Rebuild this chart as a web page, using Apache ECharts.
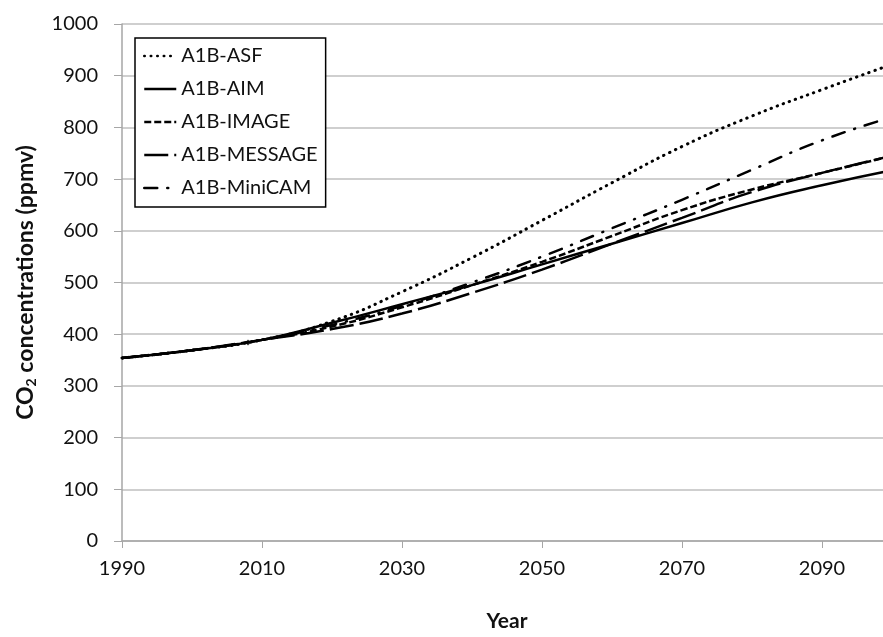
<!DOCTYPE html>
<html>
<head>
<meta charset="utf-8">
<script src="https://cdn.jsdelivr.net/npm/echarts@6/dist/echarts.min.js"></script>
<style>
  html, body { margin: 0; padding: 0; background: #fff; overflow: hidden; }
  #chart { width: 900px; height: 637px; }
</style>
</head>
<body>
<div id="chart"></div>
<script>
// years on the x axis
var years = [1990, 2000, 2010, 2020, 2030, 2040, 2050, 2060, 2070, 2080, 2090, 2100]

// CO2 concentrations (ppmv) per scenario
var asf = [354, 369, 389, 425, 482, 548, 620, 693, 763, 822, 873, 922]
var aim = [354, 369, 389, 422, 458, 495, 535, 575, 615, 655, 688, 717]
var image = [354, 369, 389, 415, 452, 495, 540, 590, 640, 680, 712, 745]
var message = [354, 369, 389, 410, 440, 480, 525, 575, 625, 675, 712, 745]
var minicam = [354, 369, 389, 418, 455, 500, 550, 605, 660, 718, 775, 820]

// observed point
var observed = [[2008, 384]]

var seriesNames = ['A1B-ASF', 'A1B-AIM', 'A1B-IMAGE', 'A1B-MESSAGE', 'A1B-MiniCAM']
var seriesData = [asf, aim, image, message, minicam]
var dashes = [[0.5, 6], 'solid', [7, 3], [24, 6], [13, 10, 1, 10]]
var widths = [3, 2.5, 2.5, 2.5, 2.5]

var font = 'Lato, "Open Sans", sans-serif'

var chart = echarts.init(document.getElementById('chart'))

var series = seriesNames.map(function (name, i) {
  return {
    name: name,
    type: 'line',
    smooth: true,
    symbol: 'none',
    data: seriesData[i].map(function (v, j) { return [years[j], v] }),
    lineStyle: { color: '#000', width: widths[i], type: dashes[i], cap: i === 0 || i === 4 ? 'round' : 'butt' },
    itemStyle: { color: '#000' },
    z: 5 - i
  }
})
series.push({
  name: 'observed',
  type: 'scatter',
  symbol: 'diamond',
  symbolSize: 6,
  itemStyle: { color: '#000' },
  data: observed
})

chart.setOption({
  animation: false,
  grid: { left: 122, right: 8, top: 24, bottom: 89 },
  legend: {
    data: seriesNames,
    orient: 'vertical',
    left: 135,
    top: 38,
    backgroundColor: '#fff',
    borderColor: '#000',
    borderWidth: 1.5,
    padding: [8, 8, 9, 8],
    itemWidth: 32,
    itemHeight: 14,
    itemGap: 13,
    itemStyle: { opacity: 0 },
    lineStyle: { width: 2.5 },
    textStyle: { fontFamily: font, fontSize: 20, color: '#111' }
  },
  xAxis: {
    type: 'value',
    min: 1990,
    max: 2100,
    interval: 20,
    name: 'Year',
    nameLocation: 'middle',
    nameGap: 70,
    nameTextStyle: { fontFamily: font, fontSize: 21, fontWeight: 'bold', color: '#111' },
    axisLine: { lineStyle: { color: '#a6a6a6', width: 1.5 } },
    axisTick: { show: true, length: 7, lineStyle: { color: '#a6a6a6' } },
    axisLabel: { fontFamily: font, fontSize: 20, color: '#111', margin: 18, showMaxLabel: false,
      formatter: function (v) { return String(v) } },
    splitLine: { show: false }
  },
  yAxis: {
    type: 'value',
    min: 0,
    max: 1000,
    interval: 100,
    name: '{b|CO}{s|2}{b| concentrations (ppmv)}',
    nameLocation: 'middle',
    nameGap: 84,
    nameTextStyle: {
      rich: {
        b: { fontFamily: font, fontSize: 23, fontWeight: 'bold', color: '#111' },
        s: { fontFamily: font, fontSize: 14, fontWeight: 'bold', color: '#111', verticalAlign: 'bottom', padding: [10, 0, 0, 0] }
      }
    },
    axisLine: { show: true, lineStyle: { color: '#a6a6a6', width: 1.5 } },
    axisTick: { show: true, length: 8, lineStyle: { color: '#a6a6a6' } },
    axisLabel: { fontFamily: font, fontSize: 20, color: '#111', margin: 24,
      formatter: function (v) { return String(v) } },
    splitLine: { lineStyle: { color: '#bfbfbf', width: 1.5 } }
  },
  series: series
})
</script>
</body>
</html>
